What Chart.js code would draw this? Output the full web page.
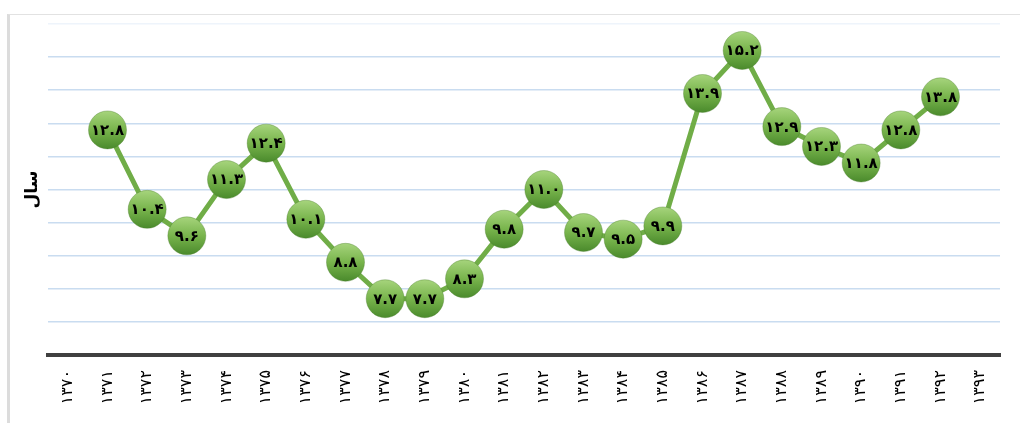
<!DOCTYPE html>
<html>
<head>
<meta charset="utf-8">
<script src="https://cdn.jsdelivr.net/npm/chart.js@4"></script>
<style>
    html, body { margin: 0; padding: 0; background: #fff; }
    #wrap { position: relative; width: 1020px; height: 423px; overflow: hidden; }
    #frame { position: absolute; left: 7px; top: 14px; width: 1100px; height: 500px;
             border-top: 1px solid #e2e2e2; border-left: 3px solid #dcdcdc; }
    #chart { position: absolute; left: 0; top: 0; }
</style>
</head>
<body>
<div id="wrap">
    <div id="frame"></div>
    <canvas id="chart" width="1020" height="423"></canvas>
</div>
<script>
// Years (solar hijri) on the x axis
const years = [1370, 1371, 1372, 1373, 1374, 1375, 1376, 1377, 1378, 1379, 1380, 1381,
               1382, 1383, 1384, 1385, 1386, 1387, 1388, 1389, 1390, 1391, 1392, 1393];

// Values per year (no value for 1370 and 1393)
const values = [null, 12.8, 10.4, 9.6, 11.3, 12.4, 10.1, 8.8, 7.7, 7.7, 8.3, 9.8,
                11.0, 9.7, 9.5, 9.9, 13.9, 15.2, 12.9, 12.3, 11.8, 12.8, 13.8, null];

const yTitle = 'سال';

// --- helpers ---
const faDigits = ['۰', '۱', '۲', '۳', '۴', '۵', '۶', '۷', '۸', '۹'];
function toFa(str) {
    return String(str).replace(/[0-9]/g, d => faDigits[+d]);
}

// draws the value inside each marker
const valueLabels = {
    id: 'valueLabels',
    afterDatasetsDraw(chart) {
        const ctx = chart.ctx;
        const meta = chart.getDatasetMeta(0);
        ctx.save();
        ctx.font = 'bold 15px "DejaVu Sans"';
        ctx.fillStyle = '#000';
        ctx.textAlign = 'center';
        ctx.textBaseline = 'middle';
        meta.data.forEach((pt, i) => {
            if (values[i] == null) return;
            ctx.fillText(toFa(values[i].toFixed(1)), pt.x, pt.y + 1);
        });
        ctx.restore();
    }
};

function markerFill(context) {
    const chart = context.chart;
    const yScale = chart.scales.y;
    if (!yScale || context.raw == null) return '#70ad47';
    const py = yScale.getPixelForValue(context.raw);
    const g = chart.ctx.createLinearGradient(0, py - 19, 0, py + 19);
    g.addColorStop(0, '#a6d47c');
    g.addColorStop(0.5, '#78b44c');
    g.addColorStop(1, '#4a8a2c');
    return g;
}

new Chart(document.getElementById('chart'), {
    type: 'line',
    data: {
        labels: years,
        datasets: [{
            data: values,
            borderColor: '#70ad47',
            borderWidth: 5,
            pointRadius: 19,
            pointBackgroundColor: markerFill,
            pointBorderColor: 'rgba(70,120,40,0.35)',
            pointBorderWidth: 1,
            tension: 0,
            spanGaps: false,
            clip: false
        }]
    },
    options: {
        responsive: false,
        animation: false,
        events: [],
        layout: { padding: { top: 24, right: 12, bottom: 0, left: 0 } },
        plugins: {
            legend: { display: false },
            tooltip: { enabled: false }
        },
        scales: {
            x: {
                offset: true,
                grid: { display: false, drawTicks: false },
                border: { display: true, color: '#404040', width: 4 },
                ticks: {
                    minRotation: 90,
                    maxRotation: 90,
                    padding: 15,
                    color: '#000',
                    font: { family: 'DejaVu Sans', size: 16 },
                    callback: function (v) { return toFa(this.getLabelForValue(v)); }
                },
                afterFit: s => { s.height = 68; }
            },
            y: {
                min: 6,
                max: 16,
                ticks: { display: false, stepSize: 1 },
                grid: {
                    drawTicks: false,
                    lineWidth: 1.5,
                    color: c => c.tick && c.tick.value === 16 ? '#eef4fb' : '#c9dcf0'
                },
                border: { display: false },
                title: {
                    display: true,
                    text: yTitle,
                    color: '#000',
                    font: { family: 'DejaVu Sans', size: 17, weight: 'bold' },
                    padding: { top: 22, bottom: 0 }
                },
                afterFit: s => { s.width = 48; }
            }
        }
    },
    plugins: [valueLabels]
});
</script>
</body>
</html>
